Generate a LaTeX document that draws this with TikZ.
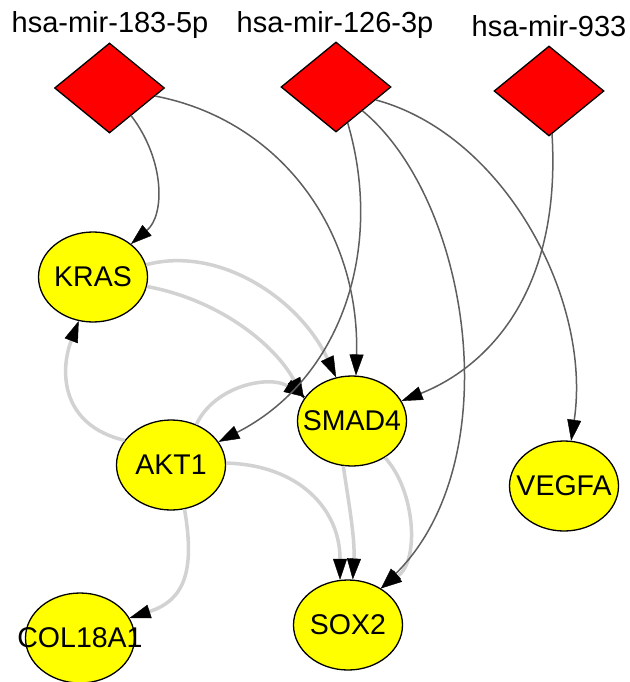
\documentclass[tikz,border=0pt]{standalone}
\usepackage{fontspec}
\newfontfamily\arialf{Liberation Sans}
\usetikzlibrary{shapes.geometric,arrows.meta}
\definecolor{edgedark}{HTML}{5E5E5E}
\definecolor{edgelight}{HTML}{D2D2D2}
\definecolor{mirred}{HTML}{FF0000}
\definecolor{geneyellow}{HTML}{FFFF00}
\begin{document}
\begin{tikzpicture}[x=1pt,y=-1pt,
  mir/.style={diamond, draw=black, line width=1.3pt, fill=mirred,
    minimum width=110pt, minimum height=90pt, inner sep=0pt},
  gene/.style={ellipse, draw=black, line width=1.3pt, fill=geneyellow,
    minimum width=109pt, minimum height=90pt, inner sep=0pt,
    font=\arialf\fontsize{28.5}{30}\selectfont},
  title/.style={anchor=base, inner sep=0pt,
    font=\arialf\fontsize{29}{31}\selectfont},
  tip/.style={-{Triangle[length=21pt 0 0,width=14pt 0 0,line width=0.4pt,black]}},
  mirlink/.style={draw=edgedark, line width=1.5pt, tip},
  genelink/.style={draw=edgelight, line width=3.5pt, tip}
]
\useasboundingbox[fill=white] (0,0) rectangle (629,682);

% miRNA nodes and titles
\node[mir] (d1) at (109.5,88) {};
\node[mir] (d2) at (336,87) {};
\node[mir] (d3) at (549,91) {};
\node[title] (l1) at (110,33) {hsa-mir-183-5p};
\node[title] (l2) at (335,33) {hsa-mir-126-3p};
\node[title] (l3) at (549,37) {hsa-mir-933};

% gene nodes
\node[gene] (kras)  at (93,277)  {\makebox[0pt]{KRAS}};
\node[gene] (smad4) at (352,421) {\makebox[0pt]{SMAD4}};
\node[gene] (akt1)  at (171,465) {\makebox[0pt]{AKT1}};
\node[gene] (vegfa) at (564,486) {\makebox[0pt]{VEGFA}};
\node[gene] (sox2)  at (348,625) {\makebox[0pt]{SOX2}};
\node[gene] (col)   at (80,638)  {\makebox[0pt]{COL18A1}};

% gene-gene links (light)
\draw[genelink] (kras.13.5) .. controls (220,245) and (300,300) .. (smad4.110);
\draw[genelink] (kras.-10.5) .. controls (220,300) and (275,345) .. (smad4.155);
\draw[genelink] (akt1.58) .. controls (215,385) and (270,375) .. (smad4.153);
\draw[genelink] (akt1.152) .. controls (60,425) and (60,370) .. (kras.-108);
\draw[genelink] (akt1.2) .. controls (300,465) and (340,510) .. (sox2.100);
\draw[genelink] (smad4.-101) .. controls (350,510) and (355,540) .. (sox2.84);
\draw[genelink] (smad4.-48) .. controls (415,490) and (420,560) .. (sox2.48);
\draw[genelink] (akt1.-73) .. controls (195,570) and (185,600) .. (col.22);

% miRNA-gene links (dark)
\draw[mirlink] (d1.-52) .. controls (165,160) and (165,215) .. (kras.41);
\draw[mirlink] (d1.-10) .. controls (280,120) and (360,230) .. (smad4.85);
\draw[mirlink] (d2.-72) .. controls (385,250) and (340,380) .. (akt1.26);
\draw[mirlink] (d2.-42) .. controls (470,200) and (510,460) .. (sox2.48);
\draw[mirlink] (d2.-18) .. controls (505,135) and (592,300) .. (vegfa.81);
\draw[mirlink] (d3.-86) .. controls (562,300) and (480,370) .. (smad4.22);
\end{tikzpicture}
\end{document}
